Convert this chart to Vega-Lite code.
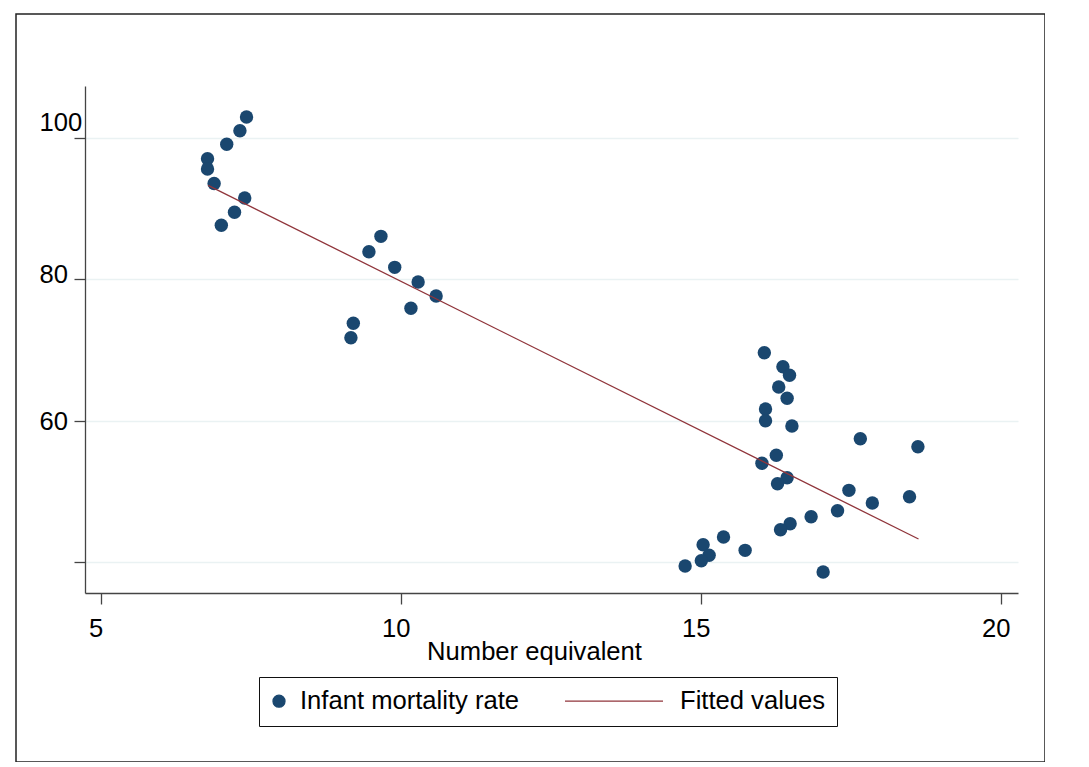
{
  "$schema": "https://vega.github.io/schema/vega-lite/v6.json",
  "width": 1029,
  "height": 748,
  "autosize": {"type": "none"},
  "padding": {"left": 16, "top": 14, "right": 0, "bottom": 0},
  "background": "white",
  "view": {"stroke": "#222222", "strokeWidth": 1.5, "fill": "white"},
  "config": {
    "font": "Liberation Sans",
    "axis": {"labelFont": "Liberation Sans", "titleFont": "Liberation Sans", "labelColor": "#000000", "titleColor": "#000000"},
    "legend": {"labelFont": "Liberation Sans"}
  },
  "layer": [
    {
      "data": {"values": [
        {"x": 6.78, "y": 97.0, "series": "Infant mortality rate"},
        {"x": 6.78, "y": 95.55, "series": "Infant mortality rate"},
        {"x": 6.89, "y": 93.5, "series": "Infant mortality rate"},
        {"x": 7.10, "y": 99.04, "series": "Infant mortality rate"},
        {"x": 7.32, "y": 100.96, "series": "Infant mortality rate"},
        {"x": 7.43, "y": 102.9, "series": "Infant mortality rate"},
        {"x": 7.40, "y": 91.45, "series": "Infant mortality rate"},
        {"x": 7.23, "y": 89.43, "series": "Infant mortality rate"},
        {"x": 7.01, "y": 87.59, "series": "Infant mortality rate"},
        {"x": 9.67, "y": 86.03, "series": "Infant mortality rate"},
        {"x": 9.47, "y": 83.86, "series": "Infant mortality rate"},
        {"x": 9.90, "y": 81.65, "series": "Infant mortality rate"},
        {"x": 10.29, "y": 79.58, "series": "Infant mortality rate"},
        {"x": 10.59, "y": 77.6, "series": "Infant mortality rate"},
        {"x": 10.17, "y": 75.86, "series": "Infant mortality rate"},
        {"x": 9.21, "y": 73.74, "series": "Infant mortality rate"},
        {"x": 9.17, "y": 71.7, "series": "Infant mortality rate"},
        {"x": 16.06, "y": 69.58, "series": "Infant mortality rate"},
        {"x": 16.37, "y": 67.6, "series": "Infant mortality rate"},
        {"x": 16.48, "y": 66.39, "series": "Infant mortality rate"},
        {"x": 16.30, "y": 64.73, "series": "Infant mortality rate"},
        {"x": 16.44, "y": 63.14, "series": "Infant mortality rate"},
        {"x": 16.08, "y": 61.63, "series": "Infant mortality rate"},
        {"x": 16.08, "y": 59.97, "series": "Infant mortality rate"},
        {"x": 16.52, "y": 59.22, "series": "Infant mortality rate"},
        {"x": 17.66, "y": 57.43, "series": "Infant mortality rate"},
        {"x": 18.62, "y": 56.3, "series": "Infant mortality rate"},
        {"x": 16.26, "y": 55.08, "series": "Infant mortality rate"},
        {"x": 16.02, "y": 53.95, "series": "Infant mortality rate"},
        {"x": 16.44, "y": 51.92, "series": "Infant mortality rate"},
        {"x": 16.28, "y": 51.07, "series": "Infant mortality rate"},
        {"x": 17.47, "y": 50.13, "series": "Infant mortality rate"},
        {"x": 18.48, "y": 49.23, "series": "Infant mortality rate"},
        {"x": 17.86, "y": 48.34, "series": "Infant mortality rate"},
        {"x": 17.28, "y": 47.25, "series": "Infant mortality rate"},
        {"x": 16.84, "y": 46.4, "series": "Infant mortality rate"},
        {"x": 16.49, "y": 45.41, "series": "Infant mortality rate"},
        {"x": 16.33, "y": 44.57, "series": "Infant mortality rate"},
        {"x": 15.38, "y": 43.53, "series": "Infant mortality rate"},
        {"x": 15.74, "y": 41.65, "series": "Infant mortality rate"},
        {"x": 15.04, "y": 42.45, "series": "Infant mortality rate"},
        {"x": 15.14, "y": 40.95, "series": "Infant mortality rate"},
        {"x": 15.01, "y": 40.18, "series": "Infant mortality rate"},
        {"x": 14.74, "y": 39.43, "series": "Infant mortality rate"},
        {"x": 17.04, "y": 38.59, "series": "Infant mortality rate"}
      ]},
      "mark": {"type": "circle", "size": 180, "opacity": 1},
      "encoding": {
        "x": {"field": "x", "type": "quantitative"},
        "y": {"field": "y", "type": "quantitative"},
        "color": {"field": "series", "type": "nominal"}
      }
    },
    {
      "data": {"values": [
        {"x": 6.79, "y": 93.24, "series": "Fitted values"},
        {"x": 18.63, "y": 43.25, "series": "Fitted values"}
      ]},
      "mark": {"type": "line", "strokeWidth": 1.3},
      "encoding": {
        "x": {"field": "x", "type": "quantitative"},
        "y": {"field": "y", "type": "quantitative"},
        "color": {"field": "series", "type": "nominal"}
      }
    }
  ],
  "encoding": {
    "x": {
      "field": "x", "type": "quantitative",
      "scale": {"domain": [4.738, 20.288], "range": [69, 1002], "nice": false, "zero": false},
      "axis": {
        "values": [5, 10, 15, 20], "offset": -169, "grid": false,
        "tickSize": 11, "tickColor": "#444444", "tickWidth": 1.3,
        "domainColor": "#444444", "domainWidth": 1.3,
        "labelFontSize": 25.6, "labelPadding": 12, "labelOffset": -5,
        "title": "Number equivalent", "titleFontSize": 25.6, "titleFontWeight": "normal",
        "titleX": 518, "titleY": 66, "titleBaseline": "alphabetic", "titleAlign": "center", "titleAnchor": null
      }
    },
    "y": {
      "field": "y", "type": "quantitative",
      "scale": {"domain": [35.62, 107.28], "range": [579, 72], "nice": false, "zero": false},
      "axis": {
        "values": [40, 60, 80, 100], "offset": -69,
        "labelExpr": "datum.value == 40 ? '' : datum.label",
        "grid": true, "gridColor": "#eaf2f3", "gridWidth": 1.5,
        "tickSize": 11, "tickColor": "#444444", "tickWidth": 1.3,
        "domainColor": "#444444", "domainWidth": 1.3,
        "labelFontSize": 25.6, "labelAlign": "left", "labelBaseline": "middle", "labelPadding": 35,
        "labelOffset": {"condition": [{"test": "datum.value == 100", "value": -15}, {"test": "datum.value == 80", "value": -5}], "value": 1},
        "title": null
      }
    },
    "color": {
      "field": "series", "type": "nominal",
      "scale": {"domain": ["Infant mortality rate", "Fitted values"], "range": ["#1a476f", "#90353b"]},
      "legend": {
        "title": null, "orient": "none", "direction": "horizontal",
        "legendX": 243, "legendY": 663,
        "padding": 11, "strokeColor": "#111111", "fillColor": "white",
        "labelFontSize": 25.6, "labelColor": "#000000", "labelLimit": 500, "labelBaseline": "middle",
        "columnPadding": 42, "symbolSize": 144,
        "encode": {
          "symbols": {"update": {
            "shape": {"signal": "datum.value === 'Fitted values' ? 'stroke' : 'circle'"},
            "size": {"signal": "datum.value === 'Fitted values' ? 9604 : 144"},
            "fill": {"signal": "datum.value === 'Fitted values' ? 'transparent' : '#1a476f'"},
            "stroke": {"signal": "datum.value === 'Fitted values' ? '#90353b' : 'transparent'"},
            "strokeWidth": {"value": 1.3},
            "opacity": {"value": 1},
            "x": {"signal": "datum.value === 'Fitted values' ? 49 : 9"},
            "y": {"value": 13}
          }},
          "labels": {"update": {
            "x": {"signal": "datum.value === 'Fitted values' ? 115 : 30"},
            "y": {"value": 13}
          }}
        }
      }
    }
  }
}
